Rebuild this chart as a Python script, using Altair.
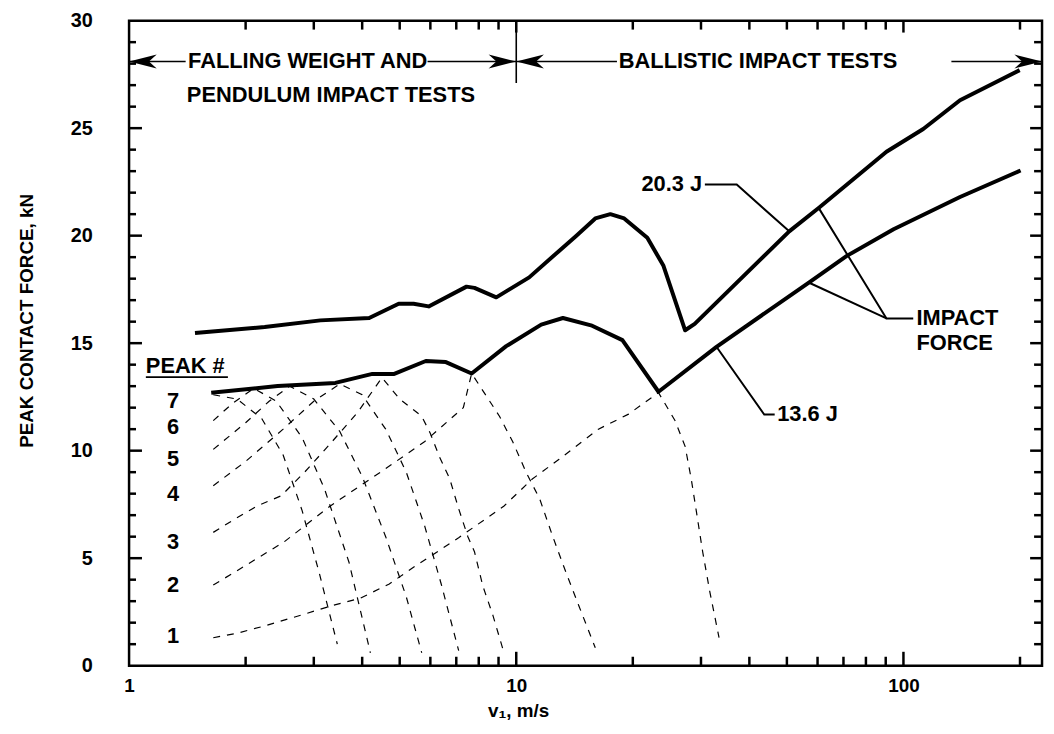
import altair as alt
import pandas as pd

# ---------------- data ----------------
# 20.3 J impact force curve
upper_v = [1.48, 2.24, 3.12, 4.17, 4.97, 5.43, 5.94, 7.44, 7.80, 8.88, 10.8, 12.9, 14.3, 16.0,
           17.5, 19.0, 21.8, 24.0, 27.3, 28.9, 50.7, 60.5, 90.4, 112.5, 140.0, 199.6]
upper_f = [15.47, 15.75, 16.06, 16.17, 16.83, 16.83, 16.71, 17.63, 17.57, 17.13, 18.06, 19.29,
           20.0, 20.8, 21.0, 20.8, 19.9, 18.6, 15.6, 15.9, 20.2, 21.3, 23.9, 24.96, 26.3, 27.7]
# 13.6 J impact force curve
lower_v = [1.63, 2.42, 3.41, 4.25, 4.84, 5.84, 6.58, 7.67, 9.42, 11.6, 13.2, 15.6, 18.8, 23.3,
           32.9, 57.1, 71.4, 94.3, 140.0, 200.7]
lower_f = [12.69, 13.01, 13.15, 13.57, 13.57, 14.17, 14.12, 13.59, 14.86, 15.86, 16.17, 15.83,
           15.14, 12.74, 14.83, 17.83, 19.06, 20.3, 21.8, 23.03]

# individual peaks (dashed)
peak1_v = [1.65, 1.91, 2.24, 2.84, 3.31, 3.96, 4.7, 5.37, 7.1, 9.3, 11.0, 12.9, 16.3, 19.5, 23.3,
           25.7, 27.3, 28.3, 29.2, 30.3, 31.6, 33.4]
peak1_f = [1.3, 1.52, 1.85, 2.4, 2.77, 3.14, 3.8, 4.52, 5.95, 7.43, 8.68, 9.6, 11.0, 11.7, 12.7,
           11.4, 10.2, 8.7, 7.15, 5.3, 3.46, 1.3]
peak2_v = [1.65, 1.91, 2.52, 3.31, 4.46, 5.78, 7.3, 7.67, 8.4, 9.05, 9.8, 10.6, 11.5, 12.4, 13.4,
           14.5, 16.0]
peak2_f = [3.75, 4.44, 5.77, 7.43, 9.0, 10.4, 12.0, 13.59, 12.5, 11.6, 10.4, 9.0, 7.75, 6.05, 4.4,
           2.8, 0.83]
peak3_v = [1.65, 1.88, 2.15, 2.47, 2.84, 3.3, 3.9, 4.5, 5.0, 5.7, 6.0, 6.34, 6.73, 7.1, 7.5, 7.8,
           8.2, 8.7, 9.26]
peak3_f = [6.2, 6.83, 7.44, 7.9, 9.0, 10.3, 11.8, 13.4, 12.4, 11.6, 10.8, 9.7, 8.7, 7.3, 6.0, 5.3,
           3.7, 2.35, 0.7]
peak4_v = [1.65, 2.0, 2.5, 3.0, 3.5, 4.0, 4.6, 5.2, 5.8, 6.4, 7.1]
peak4_f = [8.37, 9.5, 11.0, 12.3, 13.1, 12.6, 11.0, 9.0, 6.5, 3.8, 0.7]
peak5_v = [1.65, 2.0, 2.3, 2.6, 3.0, 3.5, 4.0, 4.6, 5.2, 5.7]
peak5_f = [10.06, 11.3, 12.3, 13.0, 12.4, 10.9, 8.8, 6.0, 3.2, 0.6]
peak6_v = [1.65, 1.85, 2.1, 2.4, 2.8, 3.2, 3.7, 4.2]
peak6_f = [11.4, 12.2, 12.9, 12.3, 10.6, 8.2, 4.8, 0.6]
peak7_v = [1.65, 1.9, 2.2, 2.5, 2.8, 3.1, 3.45]
peak7_f = [12.6, 12.4, 11.5, 9.8, 7.2, 4.3, 1.0]

# axis ticks / labels
x_label_vals = [1, 10, 100]
x_minor = [2, 3, 4, 5, 6, 7, 8, 9, 20, 30, 40, 50, 60, 70, 80, 90, 200]
x_major = [10, 100]
y_label_vals = [0, 5, 10, 15, 20, 25, 30]
y_minor = [v for v in range(1, 30) if v % 5 != 0]
y_major = [5, 10, 15, 20, 25]

# peak number labels
peak_nums = ["1", "2", "3", "4", "5", "6", "7"]
peak_num_f = [1.37, 3.75, 5.75, 7.98, 9.6, 11.11, 12.29]
peak_num_v = 1.30

# annotation anchor points (data coordinates)
lead_203_v = [30.7, 37.1, 50.7]
lead_203_f = [22.38, 22.38, 20.2]
lead_136_v = [46.5, 43.7, 32.96]
lead_136_f = [11.68, 11.68, 14.81]
lead_imp_a_v = [106.0, 90.4, 60.5]
lead_imp_a_f = [16.15, 16.15, 21.27]
lead_imp_b_v = [90.4, 57.1]
lead_imp_b_f = [16.15, 17.81]

XMIN, XMAX = 1, 228
FONT = "Liberation Sans"

xs = alt.Scale(type="log", domain=[XMIN, XMAX], nice=False)
ys = alt.Scale(domain=[0, 30], nice=False, zero=False)


def X(field="v", axis=alt.Undefined):
    return alt.X(f"{field}:Q", scale=xs, axis=axis)


def Y(field="f", axis=alt.Undefined):
    return alt.Y(f"{field}:Q", scale=ys, axis=axis)


# ---------------- main solid curves ----------------
rows = []
for name, vv, ff in [("20.3 J", upper_v, upper_f), ("13.6 J", lower_v, lower_f)]:
    for i, (a, b) in enumerate(zip(vv, ff)):
        rows.append({"s": name, "v": a, "f": b, "o": i})
solid_df = pd.DataFrame(rows)

x_axis = alt.Axis(values=x_label_vals, labelExpr="datum.value", labelFlush=False,
                  labelPadding=11, labelFontSize=19,
                  title="v\u2081, m/s", titleX=392, titleY=45, titleFontSize=19,
                  titleAnchor="middle", titleBaseline="middle")
y_axis = alt.Axis(values=y_label_vals, labelPadding=37,
                  title="PEAK CONTACT FORCE, kN", titleX=-103, titleY=302,
                  titleAngle=-90, titleAnchor="middle", titleBaseline="middle")

solid = alt.Chart(solid_df).mark_line(color="black", strokeWidth=4, strokeJoin="round").encode(
    x=X(axis=x_axis), y=Y(axis=y_axis), detail="s:N", order="o:Q")

# ---------------- dashed peak curves ----------------
prow = []
for k, (vv, ff) in enumerate([(peak1_v, peak1_f), (peak2_v, peak2_f), (peak3_v, peak3_f),
                              (peak4_v, peak4_f), (peak5_v, peak5_f), (peak6_v, peak6_f),
                              (peak7_v, peak7_f)]):
    for i, (a, b) in enumerate(zip(vv, ff)):
        prow.append({"s": f"p{k+1}", "v": a, "f": b, "o": i})
peak_df = pd.DataFrame(prow)
dashed = alt.Chart(peak_df).mark_line(color="black", strokeWidth=1.2,
                                      strokeDash=[7, 7]).encode(
    x=X(), y=Y(), detail="s:N", order="o:Q")

# ---------------- leaders ----------------
lrow = []
for k, (vv, ff) in enumerate([(lead_203_v, lead_203_f), (lead_136_v, lead_136_f),
                              (lead_imp_a_v, lead_imp_a_f), (lead_imp_b_v, lead_imp_b_f)]):
    for i, (a, b) in enumerate(zip(vv, ff)):
        lrow.append({"s": f"l{k}", "v": a, "f": b, "o": i})
lead_df = pd.DataFrame(lrow)
leaders = alt.Chart(lead_df).mark_line(color="black", strokeWidth=2).encode(
    x=X(), y=Y(), detail="s:N", order="o:Q")

# ---------------- ticks (inside the frame) ----------------
xminor_df = pd.DataFrame({"v": x_minor})
xmajor_df = pd.DataFrame({"v": x_major})
yminor_df = pd.DataFrame({"f": y_minor})
ymajor_df = pd.DataFrame({"f": y_major})
H, W = 650, 920
tk = dict(color="black", strokeWidth=2.5)
ticks = [
    alt.Chart(xminor_df).mark_rule(**tk).encode(x=X(), y=alt.value(H), y2=alt.value(H - 9)),
    alt.Chart(xmajor_df).mark_rule(**tk).encode(x=X(), y=alt.value(H), y2=alt.value(H - 14)),
    alt.Chart(xminor_df).mark_rule(**tk).encode(x=X(), y=alt.value(0), y2=alt.value(9)),
    alt.Chart(xmajor_df).mark_rule(**tk).encode(x=X(), y=alt.value(0), y2=alt.value(12)),
    alt.Chart(yminor_df).mark_rule(**tk).encode(y=Y(), x=alt.value(0), x2=alt.value(7)),
    alt.Chart(ymajor_df).mark_rule(**tk).encode(y=Y(), x=alt.value(0), x2=alt.value(13)),
    alt.Chart(yminor_df).mark_rule(**tk).encode(y=Y(), x=alt.value(W), x2=alt.value(W - 8)),
    alt.Chart(ymajor_df).mark_rule(**tk).encode(y=Y(), x=alt.value(W), x2=alt.value(W - 12)),
]

# ---------------- test-range arrows ----------------
arrow_y = 28.1
seg_df = pd.DataFrame({"v": [1.0, 5.9, 10.0, 133.0], "v2": [1.40, 10.0, 18.2, XMAX],
                       "f": [arrow_y] * 4})
segs = alt.Chart(seg_df).mark_rule(color="black", strokeWidth=1.6).encode(
    x=X(), x2="v2:Q", y=Y())
sep_df = pd.DataFrame({"v": [10.0], "f": [30.0], "f2": [27.1]})
sep = alt.Chart(sep_df).mark_rule(color="black", strokeWidth=1.6).encode(
    x=X(), y=Y(), y2="f2:Q")
left_head = "M0,0L1,-0.25L0.72,0L1,0.25Z"
right_head = "M0,0L-1,-0.25L-0.72,0L-1,0.25Z"
headL_df = pd.DataFrame({"v": [1.0, 10.0], "f": [arrow_y, arrow_y]})
headR_df = pd.DataFrame({"v": [10.0, XMAX], "f": [arrow_y, arrow_y]})
headsL = alt.Chart(headL_df).mark_point(shape=left_head, size=3100, filled=True, opacity=1,
                                        color="black", strokeWidth=0).encode(x=X(), y=Y())
headsR = alt.Chart(headR_df).mark_point(shape=right_head, size=3100, filled=True, opacity=1,
                                        color="black", strokeWidth=0).encode(x=X(), y=Y())

# ---------------- text ----------------
txt = dict(font=FONT, fontWeight="bold", color="black", fontSize=22, baseline="middle")
range_txt_df = pd.DataFrame({"v": [1.42, 1.41, 18.4],
                             "f": [arrow_y, 26.55, arrow_y],
                             "t": ["FALLING WEIGHT AND", "PENDULUM IMPACT TESTS",
                                   "BALLISTIC IMPACT TESTS"]})
range_txt = alt.Chart(range_txt_df).mark_text(align="left", **txt).encode(
    x=X(), y=Y(), text="t:N")

ann_r_df = pd.DataFrame({"v": [30.2], "f": [22.38], "t": ["20.3 J"]})
ann_r = alt.Chart(ann_r_df).mark_text(align="right", **txt).encode(x=X(), y=Y(), text="t:N")
ann_df = pd.DataFrame({"v": [47.2, 108.0, 108.0],
                       "f": [11.68, 16.15, 15.0],
                       "t": ["13.6 J", "IMPACT", "FORCE"]})
ann = alt.Chart(ann_df).mark_text(align="left", **txt).encode(x=X(), y=Y(), text="t:N")

pk_df = pd.DataFrame({"v": [peak_num_v] * 7, "f": peak_num_f, "t": peak_nums})
pk = alt.Chart(pk_df).mark_text(align="center", **txt).encode(x=X(), y=Y(), text="t:N")
pkhead_df = pd.DataFrame({"v": [1.105], "f": [13.93], "t": ["PEAK #"]})
pkhead = alt.Chart(pkhead_df).mark_text(align="left", **txt).encode(x=X(), y=Y(), text="t:N")
ul_df = pd.DataFrame({"v": [1.105], "v2": [1.80], "f": [13.42]})
ul = alt.Chart(ul_df).mark_rule(color="black", strokeWidth=1.6).encode(x=X(), x2="v2:Q", y=Y())

chart = alt.layer(solid, dashed, leaders, *ticks, segs, sep, headsL, headsR, range_txt, ann_r,
                  ann, pk, pkhead, ul).properties(
    width=W, height=H,
    autosize=alt.AutoSizeParams(type="none"),
    padding={"left": 122, "top": 10, "right": 4, "bottom": 54},
    background="white",
).configure_view(
    stroke="black", strokeWidth=2.5
).configure_axis(
    ticks=False, domain=False, grid=False,
    labelFont=FONT, labelFontSize=20, labelFontWeight="bold", labelColor="black",
    titleFont=FONT, titleFontSize=19, titleFontWeight="bold", titleColor="black",
)

chart.save("out.html", embed_options={"renderer": "svg", "actions": False})
